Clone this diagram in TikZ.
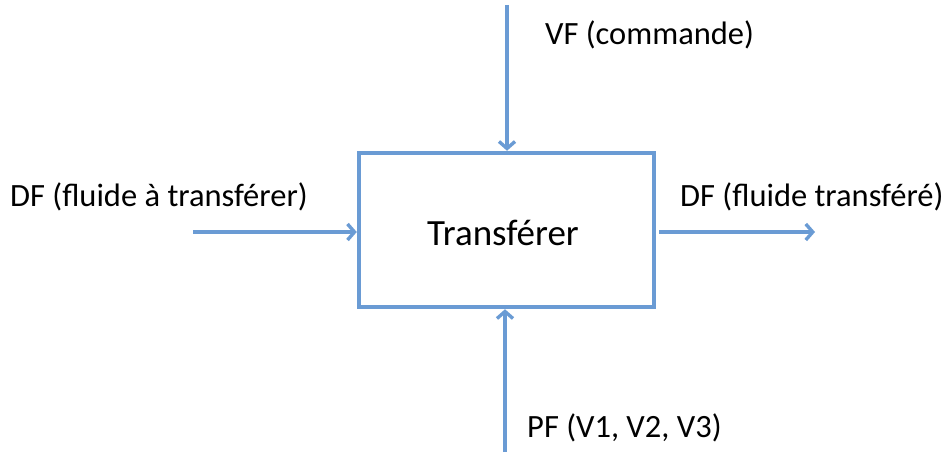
\documentclass[tikz,border=0pt]{standalone}
\usepackage{fontspec}
\setmainfont{Carlito}
\usetikzlibrary{arrows.meta}
\definecolor{lineblue}{RGB}{106,155,212}
\begin{document}
\begin{tikzpicture}[x=1pt,y=-1pt,
  conn/.style={draw=lineblue,line width=3.6pt,-{Straight Barb[length=7pt,width=16pt,line width=3.4pt]}},
  lbl/.style={anchor=base west,inner sep=0pt,font=\fontsize{32.5}{36}\selectfont}]
\useasboundingbox (0,0) rectangle (952,452);
\node[draw=lineblue,line width=4.5pt,minimum width=295pt,minimum height=154pt,inner sep=0pt] (box) at (506.5,230) {};
\node[anchor=base,inner sep=0pt,font=\fontsize{37}{40}\selectfont] (t) at (503,245) {Transférer};
\coordinate (topS) at (507,5);
\coordinate (botS) at (505,452);
\coordinate (leftS) at (193,232);
\coordinate (rightE) at (815,232);
\draw[conn] (topS) -- (topS |- box.north);
\draw[conn] (botS) -- (botS |- box.south);
\draw[conn] (leftS) -- (leftS -| box.west);
\draw[conn] (box.east |- rightE) ++(3,0) -- (rightE);
\node[lbl] (vf) at (545,45) {VF (commande)};
\node[lbl] (dfl) at (10,206) {DF (fluide à transférer)};
\node[lbl] (dfr) at (680,206) {DF (fluide transféré)};
\node[lbl] (pf) at (527,437) {PF (V1, V2, V3)};
\end{tikzpicture}
\end{document}
